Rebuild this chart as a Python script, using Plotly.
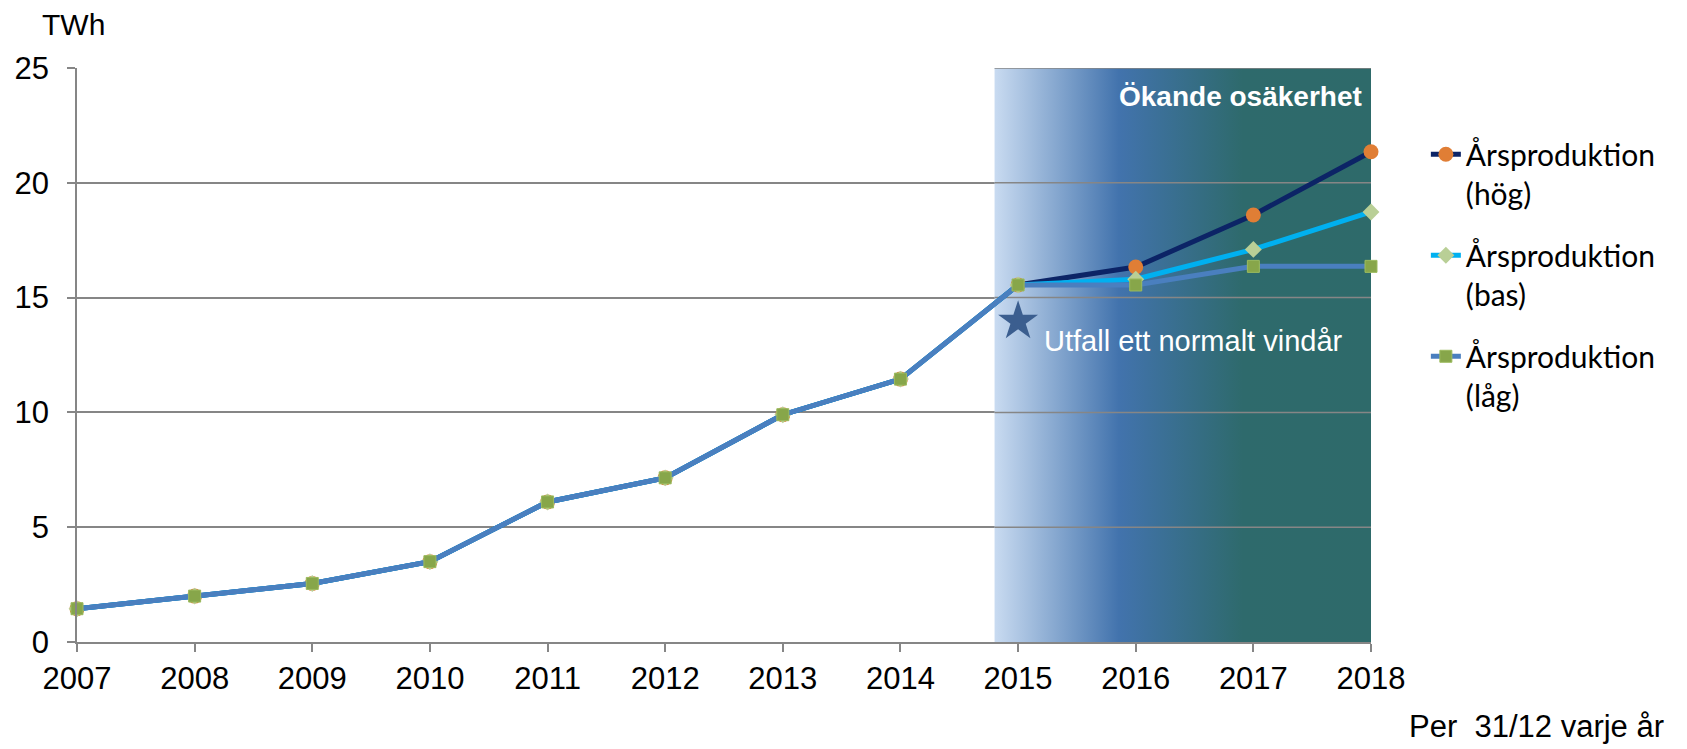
import plotly.graph_objects as go

years = [2007, 2008, 2009, 2010, 2011, 2012, 2013, 2014, 2015, 2016, 2017, 2018]
hist = [1.45, 2.0, 2.55, 3.5, 6.1, 7.15, 9.9, 11.45, 15.55]
hog = hist + [16.33, 18.6, 21.35]
bas = hist + [15.8, 17.1, 18.73]
lag = hist + [15.55, 16.36, 16.36]

names = ["Årsproduktion<br>(hög)", "Årsproduktion<br>(bas)", "Årsproduktion<br>(låg)"]
star_x = [2015]
star_y = [13.97]
unc_start, unc_end = 2014.8, 2018
grid_vals = [5, 10, 15, 20, 25]

AX = "#868686"
FONT = "Liberation Sans, Arial, sans-serif"

# plot area in page pixels: x 77..1371, y 68..642.5
PW, PH = 1294, 574.5
ML, MT = 77, 68
FW, FH = 1687, 749

fig = go.Figure()

# uncertainty gradient band
fig.add_trace(go.Scatter(
    x=[unc_start, unc_end, unc_end, unc_start, unc_start],
    y=[0, 0, 25, 25, 0], mode="lines", line=dict(width=0),
    fill="toself",
    fillgradient=dict(type="horizontal", colorscale=[
        [0.0, "#c9dbf1"], [0.33, "#4273ad"], [0.66, "#2e6a6c"], [1.0, "#2e6a6a"]]),
    hoverinfo="skip", showlegend=False))

# gridlines redrawn over the band
for g in grid_vals:
    fig.add_trace(go.Scatter(x=[unc_start, unc_end], y=[g, g], mode="lines",
                             line=dict(color=AX, width=1.5), hoverinfo="skip",
                             showlegend=False))

series = [
    (hog, names[0], "#0c2466", dict(symbol="circle", size=15, color="#e07e35",
                                     line=dict(width=0))),
    (bas, names[1], "#00b0f0", dict(symbol="diamond", size=13, color="#b9cf96",
                                     line=dict(width=0))),
    (lag, names[2], "#4a7fbf", dict(symbol="square", size=12, color="#87a64a",
                                     line=dict(width=1, color="#9cbb5e"))),
]
for i, (vals, nm, col, mk) in enumerate(series):
    fig.add_trace(go.Scatter(x=years, y=vals, name=nm, mode="lines+markers",
                             line=dict(color=col, width=5), marker=mk,
                             cliponaxis=False, legendgroup=f"g{i}"))

fig.add_trace(go.Scatter(x=star_x, y=star_y, mode="markers",
                         marker=dict(symbol="star", size=30, color="#3b5e8f",
                                     line=dict(width=0)),
                         hoverinfo="skip", showlegend=False))

fig.add_annotation(x=2015.2, y=13.1, xref="x", yref="y", text="Utfall ett normalt vindår",
                   showarrow=False, xanchor="left", yanchor="middle",
                   font=dict(family=FONT, size=29, color="white"))
fig.add_annotation(x=2017.94, y=23.75, xref="x", yref="y", text="<b>Ökande osäkerhet</b>",
                   showarrow=False, xanchor="right", yanchor="middle",
                   font=dict(family=FONT, size=28, color="white"))
fig.add_annotation(x=-37/PW, y=1.0 + 44/PH, xref="paper", yref="paper", text="TWh",
                   showarrow=False, xanchor="left", yanchor="middle",
                   font=dict(family=FONT, size=30, color="black"))
fig.add_annotation(x=1589/PW, y=-85/PH, xref="paper", yref="paper",
                   text="Per  31/12 varje år", showarrow=False, xanchor="right",
                   yanchor="middle", font=dict(family=FONT, size=31, color="black"))

fig.update_layout(
    width=FW, height=FH,
    margin=dict(l=ML, r=FW - ML - PW, t=MT, b=FH - MT - PH, pad=0),
    plot_bgcolor="white", paper_bgcolor="white",
    font=dict(family=FONT, size=31, color="black"),
    showlegend=True,
    legend=dict(x=1.0424, y=0.895, xanchor="left", yanchor="top",
                font=dict(family="Lato, Carlito, sans-serif", size=30, color="black"),
                tracegroupgap=20, valign="top", traceorder="grouped",
                bgcolor="rgba(0,0,0,0)"),
    xaxis=dict(range=[2007, 2018], tickvals=years, ticktext=[str(y) for y in years],
               showgrid=False, zeroline=False, showline=True, linecolor=AX, linewidth=1.5,
               ticks="outside", ticklen=8, tickcolor=AX, tickwidth=1.5, automargin=False,
               tickfont=dict(family=FONT, size=31, color="black")),
    yaxis=dict(range=[0, 25], tickvals=[0, 5, 10, 15, 20, 25], showgrid=True,
               gridcolor=AX, gridwidth=1.5, zeroline=False, showline=True,
               linecolor=AX, linewidth=1.5, ticks="outside", ticklen=8,
               tickcolor=AX, tickwidth=1.5, ticklabelstandoff=12, automargin=False,
               tickfont=dict(family=FONT, size=31, color="black")),
)

fig.write_html("out.html", config={"displayModeBar": False},
               post_script="document.body.style.margin='0';")
